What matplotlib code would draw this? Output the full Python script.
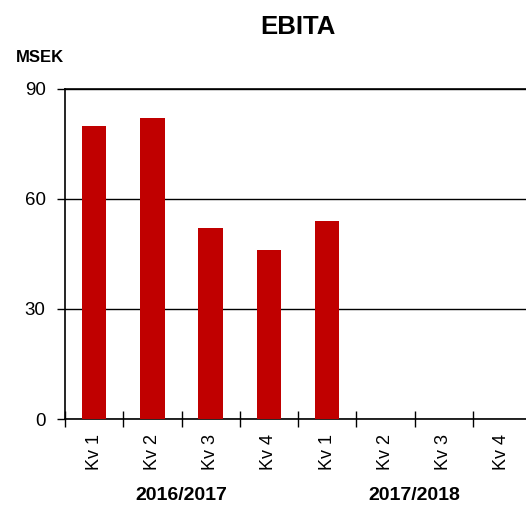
import matplotlib
matplotlib.use("Agg")
import matplotlib.pyplot as plt
from matplotlib.transforms import blended_transform_factory
import numpy as np

plt.rcParams['font.family'] = ['Liberation Sans', 'DejaVu Sans']

categories = ["Kv 1", "Kv 2", "Kv 3", "Kv 4", "Kv 1", "Kv 2", "Kv 3", "Kv 4"]
values = [80, 82, 52, 46, 54]
groups = ["2016/2017", "2017/2018"]
group_spans = [(0, 3), (4, 7)]
yticks = [0, 30, 60, 90]
title = "EBITA"
unit = "MSEK"

W, H = 526, 505
fig = plt.figure(figsize=(W / 100, H / 100), dpi=100)
ax = fig.add_axes([65 / W, 1 - 419 / H, (531 - 65) / W, (419 - 89) / H])

x = np.arange(len(values))
ax.bar(x, values, width=0.42, color="#C00000", zorder=3)

ax.set_xlim(-0.5, len(categories) - 0.5)
ax.set_ylim(0, 90)
ax.set_yticks(yticks)
ax.yaxis.grid(True, color="black", linewidth=1.0)
ax.set_axisbelow(True)

ax.set_xticks(np.arange(len(categories) + 1) - 0.5)
ax.set_xticklabels([])
ax.set_xticks(np.arange(len(categories)), minor=True)
ax.set_xticklabels(categories, minor=True, rotation=90, fontsize=13)
ax.tick_params(axis="x", which="major", direction="inout", length=11, width=1.0, color="black")
ax.tick_params(axis="x", which="minor", length=0, pad=11)
ax.tick_params(axis="y", direction="out", length=6, width=1.0, labelsize=13.5, pad=8)

ax.spines["right"].set_visible(False)
for s in ["left", "bottom", "top"]:
    ax.spines[s].set_linewidth(1.2)
    ax.spines[s].set_color("black")

trans = blended_transform_factory(ax.transData, fig.transFigure)
for g, (a, b) in zip(groups, group_spans):
    ax.text((a + b) / 2, 1 - 495 / H, g, transform=trans, ha="center", va="center",
            fontsize=14, fontweight="bold")

fig.text(298 / W, 1 - 27 / H, title, ha="center", va="center", fontsize=18.5, fontweight="bold")
fig.text(16 / W, 1 - 57 / H, unit, ha="left", va="center", fontsize=12, fontweight="bold")

fig.savefig("out.png", dpi=100)
